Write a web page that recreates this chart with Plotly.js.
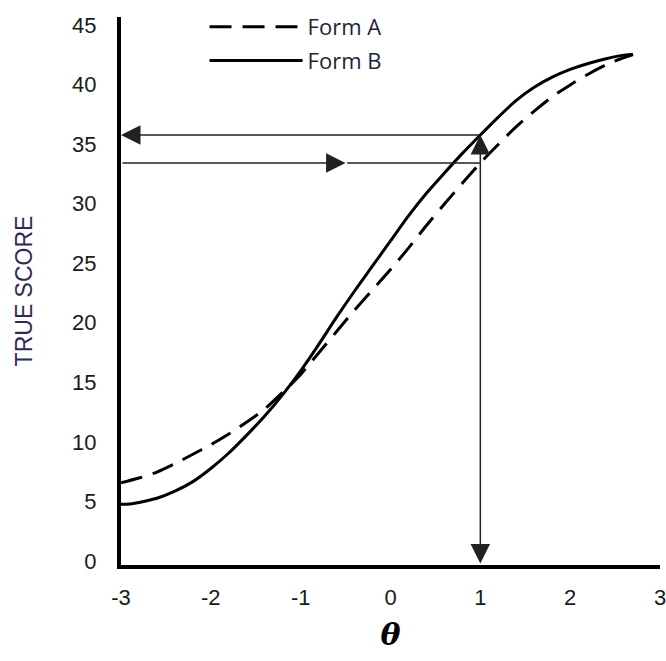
<!DOCTYPE html>
<html>
<head>
<meta charset="utf-8">
<script src="https://cdn.plot.ly/plotly-3.0.1.min.js"></script>
<style>html,body{margin:0;padding:0;background:#fff;}#chart{width:666px;height:661px;}</style>
</head>
<body>
<div id="chart"></div>
<script>
// theta values (ability scale)
const thetaA = [-3, -2.8, -2.6, -2.4, -2.2, -2.0, -1.8, -1.6, -1.4, -1.2, -1.0, -0.8, -0.6, -0.4, -0.2, 0.0, 0.2, 0.4, 0.6, 0.8, 1.0, 1.2, 1.4, 1.6, 1.8, 2.0, 2.2, 2.4, 2.6, 2.7];
const trueScoreA = [6.9, 7.3, 7.8, 8.5, 9.3, 10.1, 11.0, 12.0, 13.1, 14.5, 16.0, 17.8, 19.6, 21.4, 23.1, 24.8, 26.6, 28.5, 30.3, 32.05, 33.75, 35.3, 36.8, 38.1, 39.3, 40.3, 41.2, 42.0, 42.6, 42.85];
const thetaB = [-3, -2.9, -2.8, -2.6, -2.4, -2.2, -2.0, -1.8, -1.6, -1.4, -1.2, -1.0, -0.8, -0.6, -0.4, -0.2, 0.0, 0.2, 0.4, 0.6, 0.8, 1.0, 1.2, 1.4, 1.6, 1.8, 2.0, 2.2, 2.4, 2.6, 2.7];
const trueScoreB = [5.1, 5.12, 5.25, 5.6, 6.2, 7.0, 8.1, 9.4, 10.9, 12.5, 14.3, 16.3, 18.5, 20.8, 23.0, 25.1, 27.2, 29.3, 31.2, 32.9, 34.55, 36.1, 37.6, 39.0, 40.1, 40.95, 41.6, 42.1, 42.5, 42.8, 42.85];
const seriesNames = ["Form A", "Form B"];
const xTicks = [-3, -2, -1, 0, 1, 2, 3];
const yTicks = [0, 5, 10, 15, 20, 25, 30, 35, 40, 45];
// equating illustration: theta = 1 maps to these true scores
const equateTheta = 1;
const equateScoreA = 33.75;
const equateScoreB = 36.1;
const arrowMidTheta = -0.5;

const lineCol = '#222';
const traces = [
  {x: thetaA, y: trueScoreA, name: seriesNames[0], mode: 'lines', legendgroup: 'a',
   line: {color: '#000', width: 3, dash: '22px,11px', shape: 'spline', smoothing: 0.8}},
  {x: thetaB, y: trueScoreB, name: seriesNames[1], mode: 'lines', legendgroup: 'b',
   line: {color: '#000', width: 3, shape: 'spline', smoothing: 0.8}}
];

function arrow(x0, y0, x1, y1, head, side) {
  return {x: x1, y: y1, ax: x0, ay: y0, xref: 'x', yref: 'y', axref: 'x', ayref: 'y',
    showarrow: true, text: '', arrowhead: head, startarrowhead: head, arrowside: side || 'end',
    arrowsize: 2.6, startarrowsize: 2.6, arrowwidth: 1.5, arrowcolor: lineCol, standoff: 0, startstandoff: 0};
}

const annotations = [
  arrow(equateTheta, 0, equateTheta, equateScoreB, 2, 'end+start'),
  arrow(equateTheta, equateScoreB, -3, equateScoreB, 2),
  arrow(-3, equateScoreA, arrowMidTheta, equateScoreA, 2),
  arrow(arrowMidTheta, equateScoreA, equateTheta, equateScoreA, 0)
];

const layout = {
  width: 666, height: 661,
  margin: {l: 121, r: 6, t: 13, b: 96},
  paper_bgcolor: '#fff', plot_bgcolor: '#fff',
  font: {family: 'Liberation Sans, Arial, sans-serif', size: 22, color: '#1a1a1a'},
  showlegend: true,
  legend: {x: 0.155, y: 1.02, xanchor: 'left', yanchor: 'top', bgcolor: 'rgba(0,0,0,0)',
    font: {family: 'Open Sans, sans-serif', size: 22, color: '#1f1f3a'},
    itemwidth: 93, tracegroupgap: 2},
  xaxis: {range: [-3, 3], tickvals: xTicks, ticktext: xTicks.map(String), showgrid: false, zeroline: false,
    showline: true, linewidth: 4, linecolor: '#000', ticks: '', ticklabelstandoff: 10,
    ticklabeloverflow: 'allow',
    tickfont: {size: 22, color: '#1a1a1a'},
    title: {text: '<b><i>θ</i></b>', font: {family: 'DejaVu Serif, serif', size: 30, color: '#000'}, standoff: 16}},
  yaxis: {range: [0, 46], tickvals: yTicks, ticktext: yTicks.map(String), showgrid: false, zeroline: false,
    showline: true, linewidth: 4, linecolor: '#000', ticks: '', ticklabelstandoff: 16, ticklabelshift: -4,
    tickfont: {size: 22, color: '#1a1a1a'},
    title: {text: 'TRUE SCORE', font: {size: 23, color: '#2e2a55'}, standoff: 34}},
  annotations: annotations
};

Plotly.newPlot('chart', traces, layout, {displayModeBar: false, staticPlot: true});
</script>
</body>
</html>
